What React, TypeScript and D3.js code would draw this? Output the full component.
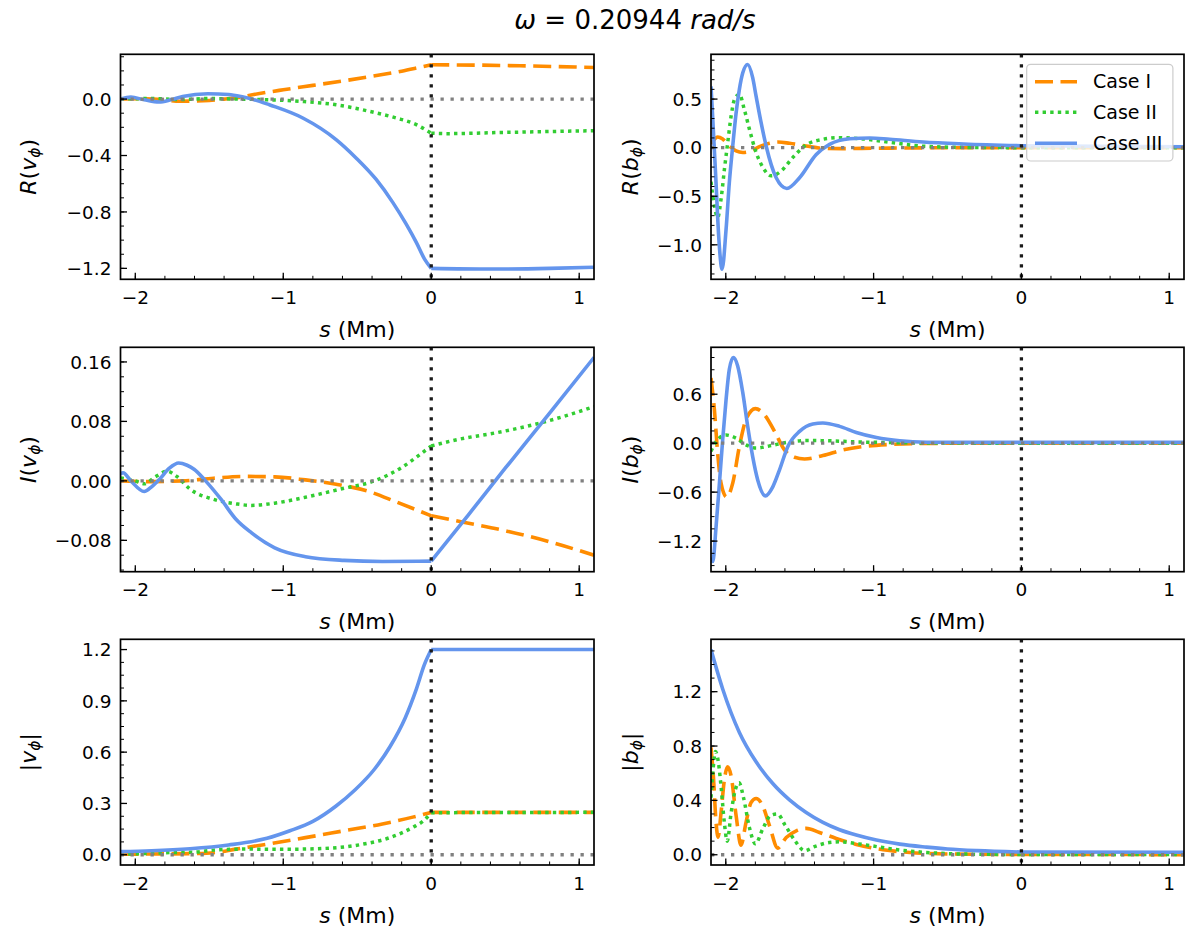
import * as d3 from "d3";

type Pt = [number, number];

// ---- data ----
const sDomain: [number, number] = [-2.1, 1.1];
const sTicks = [-2, -1, 0, 1];
const caseNames = ["Case I", "Case II", "Case III"];

// R(v_phi)
const reV1: Pt[] = [[-2.1, 0.0], [-1.95, 0.002], [-1.8, -0.006], [-1.7, -0.015], [-1.6, -0.014], [-1.5, -0.01], [-1.4, 0.0], [-1.3, 0.012], [-1.2, 0.032], [-1.0, 0.066], [-0.8, 0.097], [-0.6, 0.128], [-0.4, 0.162], [-0.2, 0.198], [-0.1, 0.22], [0, 0.243], [0.3, 0.241], [0.6, 0.236], [1.1, 0.224]];
const reV2: Pt[] = [[-2.1, 0.0], [-1.9, 0.004], [-1.7, -0.003], [-1.5, 0.004], [-1.3, 0.0], [-1.094, -0.005], [-0.868, -0.017], [-0.643, -0.04], [-0.417, -0.087], [-0.237, -0.134], [-0.101, -0.181], [-0.022, -0.228], [0, -0.242], [0.1, -0.245], [0.5, -0.236], [0.8, -0.23], [1.1, -0.224]];
const reV3: Pt[] = [[-2.1, 0.0], [-2.03, 0.014], [-1.94, -0.005], [-1.84, -0.021], [-1.76, -0.005], [-1.68, 0.019], [-1.51, 0.038], [-1.37, 0.033], [-1.27, 0.014], [-1.16, -0.016], [-1.094, -0.04], [-0.868, -0.134], [-0.643, -0.287], [-0.508, -0.417], [-0.372, -0.57], [-0.259, -0.734], [-0.169, -0.887], [-0.101, -1.016], [-0.045, -1.134], [0, -1.2], [0.4, -1.205], [0.8, -1.2], [1.1, -1.192]];

// I(v_phi)
const imV1: Pt[] = [[-2.1, 0.0], [-1.89, -0.001], [-1.68, 0.0], [-1.47, 0.0036], [-1.266, 0.006], [-1.058, 0.0054], [-0.85, 0.0013], [-0.643, -0.0045], [-0.436, -0.0134], [-0.228, -0.029], [0, -0.047], [0.2, -0.055], [0.5, -0.067], [0.8, -0.082], [1.1, -0.1]];
const imV2: Pt[] = [[-2.1, 0.004], [-2.0, 0.0], [-1.94, -0.004], [-1.86, 0.006], [-1.785, 0.013], [-1.72, 0.006], [-1.63, -0.011], [-1.47, -0.025], [-1.318, -0.031], [-1.214, -0.033], [-1.058, -0.03], [-0.85, -0.022], [-0.59, -0.01], [-0.384, 0.0], [-0.2, 0.018], [-0.073, 0.036], [0, 0.047], [0.187, 0.056], [0.446, 0.065], [0.7, 0.076], [0.9, 0.087], [1.1, 0.1]];
const imV3: Pt[] = [[-2.1, 0.009], [-2.083, 0.011], [-2.03, 0.0], [-1.94, -0.0143], [-1.89, -0.008], [-1.837, 0.002], [-1.77, 0.017], [-1.707, 0.024], [-1.65, 0.021], [-1.603, 0.0157], [-1.525, 0.0], [-1.42, -0.025], [-1.318, -0.052], [-1.214, -0.07], [-1.058, -0.09], [-0.85, -0.102], [-0.59, -0.107], [-0.33, -0.1085], [0, -0.108], [0.25, -0.046], [0.5, 0.017], [0.8, 0.091], [1.1, 0.166]];

// |v_phi|
const absV1: Pt[] = [[-2.1, 0.003], [-1.8, 0.005], [-1.6, 0.007], [-1.47, 0.012], [-1.32, 0.033], [-1.11, 0.062], [-0.85, 0.1], [-0.59, 0.14], [-0.33, 0.18], [-0.125, 0.22], [0, 0.248], [1.1, 0.248]];
const absV2: Pt[] = [[-2.1, 0.003], [-1.9, 0.008], [-1.75, 0.013], [-1.6, 0.015], [-1.47, 0.027], [-1.27, 0.033], [-0.98, 0.032], [-0.72, 0.037], [-0.46, 0.062], [-0.28, 0.1], [-0.125, 0.16], [-0.05, 0.2], [0, 0.246], [1.1, 0.248]];
const absV3: Pt[] = [[-2.1, 0.018], [-1.89, 0.023], [-1.63, 0.035], [-1.37, 0.057], [-1.11, 0.096], [-0.955, 0.14], [-0.8, 0.195], [-0.643, 0.285], [-0.514, 0.38], [-0.384, 0.5], [-0.28, 0.63], [-0.176, 0.8], [-0.1, 0.97], [-0.047, 1.11], [0, 1.2], [1.1, 1.2]];

// R(b_phi)
const reB1: Pt[] = [[-2.1, 0.04], [-2.075, 0.09], [-2.055, 0.11], [-2.021, 0.09], [-1.976, 0.017], [-1.93, -0.034], [-1.885, -0.05], [-1.829, -0.034], [-1.772, 0.01], [-1.704, 0.045], [-1.648, 0.058], [-1.569, 0.045], [-1.456, 0.017], [-1.343, -0.007], [-1.207, -0.01], [-1.0, -0.006], [-0.7, -0.002], [-0.3, 0.0], [0, 0.0], [1.1, 0.0]];
const reB2: Pt[] = [[-2.1, -0.35], [-2.077, -0.6], [-2.055, -0.72], [-2.032, -0.53], [-2.009, -0.22], [-1.987, 0.05], [-1.964, 0.325], [-1.94, 0.5], [-1.908, 0.55], [-1.874, 0.39], [-1.84, 0.19], [-1.795, -0.05], [-1.75, -0.2], [-1.693, -0.29], [-1.625, -0.24], [-1.546, -0.1], [-1.467, 0.017], [-1.343, 0.086], [-1.23, 0.103], [-1.072, 0.09], [-0.891, 0.055], [-0.665, 0.015], [-0.4, 0.003], [0, 0.0], [1.1, 0.0]];
const reB3: Pt[] = [[-2.1, 0.63], [-2.089, 0.325], [-2.066, -0.36], [-2.048, -0.91], [-2.025, -1.25], [-1.998, -0.84], [-1.976, -0.36], [-1.953, 0.017], [-1.93, 0.36], [-1.908, 0.6], [-1.885, 0.77], [-1.852, 0.856], [-1.818, 0.72], [-1.795, 0.53], [-1.761, 0.257], [-1.727, 0.017], [-1.659, -0.31], [-1.587, -0.42], [-1.501, -0.31], [-1.388, -0.07], [-1.298, 0.034], [-1.162, 0.092], [-1.026, 0.1], [-0.891, 0.086], [-0.665, 0.058], [-0.39, 0.038], [0, 0.02], [1.1, 0.01]];

// I(b_phi)
const imB1: Pt[] = [[-2.1, 0.8], [-2.077, 0.41], [-2.055, -0.12], [-2.032, -0.49], [-1.994, -0.66], [-1.953, -0.49], [-1.908, -0.04], [-1.863, 0.29], [-1.8, 0.424], [-1.739, 0.35], [-1.67, 0.144], [-1.603, -0.082], [-1.535, -0.173], [-1.467, -0.193], [-1.343, -0.152], [-1.207, -0.082], [-1.072, -0.041], [-0.891, -0.016], [-0.665, -0.004], [-0.3, 0.0], [0, 0.0], [1.1, 0.0]];
const imB2: Pt[] = [[-2.1, -0.1], [-2.066, 0.02], [-1.998, 0.1], [-1.93, 0.06], [-1.863, -0.02], [-1.795, -0.06], [-1.704, -0.033], [-1.591, 0.008], [-1.456, 0.033], [-1.298, 0.029], [-1.117, 0.016], [-0.891, 0.008], [-0.6, 0.002], [0, 0.0], [1.1, 0.0]];
const imB3: Pt[] = [[-2.1, -1.4], [-2.088, -1.45], [-2.066, -1.03], [-2.043, -0.49], [-2.021, 0.04], [-1.998, 0.535], [-1.976, 0.905], [-1.949, 1.05], [-1.92, 0.95], [-1.885, 0.62], [-1.852, 0.21], [-1.818, -0.165], [-1.784, -0.45], [-1.732, -0.646], [-1.682, -0.535], [-1.637, -0.33], [-1.58, -0.04], [-1.501, 0.144], [-1.411, 0.235], [-1.343, 0.247], [-1.23, 0.206], [-1.117, 0.132], [-0.981, 0.07], [-0.823, 0.029], [-0.642, 0.012], [-0.3, 0.01], [0, 0.01], [1.1, 0.01]];

// |b_phi|
const absB1: Pt[] = [[-2.1, 0.79], [-2.084, 0.58], [-2.066, 0.24], [-2.052, 0.13], [-2.032, 0.31], [-2.009, 0.556], [-1.987, 0.647], [-1.964, 0.58], [-1.93, 0.287], [-1.897, 0.071], [-1.863, 0.238], [-1.829, 0.385], [-1.795, 0.414], [-1.75, 0.36], [-1.704, 0.213], [-1.648, 0.049], [-1.591, 0.127], [-1.523, 0.176], [-1.456, 0.194], [-1.366, 0.164], [-1.253, 0.12], [-1.117, 0.076], [-0.936, 0.037], [-0.755, 0.017], [-0.5, 0.006], [0, 0.002], [1.1, 0.001]];
const absB2: Pt[] = [[-2.1, 0.42], [-2.085, 0.64], [-2.07, 0.76], [-2.05, 0.68], [-2.03, 0.48], [-2.01, 0.24], [-1.99, 0.1], [-1.965, 0.3], [-1.935, 0.48], [-1.91, 0.53], [-1.88, 0.42], [-1.84, 0.2], [-1.8, 0.08], [-1.75, 0.19], [-1.695, 0.29], [-1.65, 0.3], [-1.6, 0.22], [-1.53, 0.1], [-1.467, 0.03], [-1.4, 0.06], [-1.3, 0.09], [-1.23, 0.095], [-1.1, 0.08], [-0.95, 0.055], [-0.8, 0.032], [-0.6, 0.014], [-0.4, 0.005], [0, 0.002], [1.1, 0.001]];
const absB3: Pt[] = [[-2.1, 1.51], [-2.021, 1.22], [-1.908, 0.9], [-1.795, 0.684], [-1.682, 0.524], [-1.569, 0.404], [-1.456, 0.311], [-1.343, 0.238], [-1.23, 0.184], [-1.117, 0.145], [-0.981, 0.108], [-0.823, 0.078], [-0.642, 0.056], [-0.5, 0.042], [-0.3, 0.03], [0, 0.02], [1.1, 0.018]];

// ---- layout ----
const W = 1200;
const H = 934;
const FONT = "DejaVu Sans";
const colX: [number, number][] = [[120.5, 594], [711, 1184]];
const rowY: [number, number][] = [[54.3, 279.3], [347.3, 571.7], [639.3, 865]];
const labelX = [35.5, 638];

const styles = [
  { color: "#ff8c00", width: 3.6, dash: "18 7.5" },
  { color: "#32cd32", width: 3.5, dash: "3.4 4.2" },
  { color: "#6495ed", width: 3.6, dash: undefined as string | undefined },
];

interface PanelDef {
  col: number;
  row: number;
  yDomain: [number, number];
  yTicks: number[];
  yMinor: number;
  fmt: string;
  op: string; // "R", "I" or "" for |..|
  sym: string;
  series: Pt[][];
}

const panels: PanelDef[] = [
  { col: 0, row: 0, yDomain: [-1.2775, 0.3175], yTicks: [-1.2, -0.8, -0.4, 0], yMinor: 0.1, fmt: ".1f", op: "R", sym: "v", series: [reV1, reV2, reV3] },
  { col: 1, row: 0, yDomain: [-1.355, 0.961], yTicks: [-1, -0.5, 0, 0.5], yMinor: 0.1, fmt: ".1f", op: "R", sym: "b", series: [reB1, reB2, reB3] },
  { col: 0, row: 1, yDomain: [-0.1222, 0.1797], yTicks: [-0.08, 0, 0.08, 0.16], yMinor: 0.02, fmt: ".2f", op: "I", sym: "v", series: [imV1, imV2, imV3] },
  { col: 1, row: 1, yDomain: [-1.575, 1.175], yTicks: [-1.2, -0.6, 0, 0.6], yMinor: 0.15, fmt: ".1f", op: "I", sym: "b", series: [imB1, imB2, imB3] },
  { col: 0, row: 2, yDomain: [-0.06, 1.26], yTicks: [0, 0.3, 0.6, 0.9, 1.2], yMinor: 0.075, fmt: ".1f", op: "", sym: "v", series: [absV1, absV2, absV3] },
  { col: 1, row: 2, yDomain: [-0.0755, 1.5855], yTicks: [0, 0.4, 0.8, 1.2], yMinor: 0.1, fmt: ".1f", op: "", sym: "b", series: [absB1, absB2, absB3] },
];

function Panel({ p, idx }: { p: PanelDef; idx: number }) {
  const [x0, x1] = colX[p.col];
  const [y0, y1] = rowY[p.row];
  const x = d3.scaleLinear().domain(sDomain).range([x0, x1]);
  const y = d3.scaleLinear().domain(p.yDomain).range([y1, y0]);
  const line = d3
    .line<Pt>()
    .x((d) => x(d[0]))
    .y((d) => y(d[1]))
    .curve(d3.curveMonotoneX);
  const fmt = d3.format(p.fmt);
  const xMinor = d3.range(-10, 6).map((k) => k * 0.2).filter((v) => v >= sDomain[0] && v <= sDomain[1]);
  const yMinor = d3
    .range(Math.ceil(p.yDomain[0] / p.yMinor - 1e-9), Math.floor(p.yDomain[1] / p.yMinor + 1e-9) + 1)
    .map((k) => k * p.yMinor);
  const clipId = `clip-${idx}`;
  const cy = (y0 + y1) / 2;
  const cx = (x0 + x1) / 2;

  return (
    <g>
      <defs>
        <clipPath id={clipId}>
          <rect x={x0} y={y0} width={x1 - x0} height={y1 - y0} />
        </clipPath>
      </defs>
      <g clipPath={`url(#${clipId})`}>
        {p.series.map((pts, i) => {
          const st = styles[i];
          const left = pts.filter((d) => d[0] <= 0);
          const right = pts.filter((d) => d[0] >= 0);
          return [left, right].map((seg, j) => (
            <path
              key={`${i}-${j}`}
              d={line(seg) ?? ""}
              fill="none"
              stroke={st.color}
              strokeWidth={st.width}
              strokeDasharray={st.dash}
            />
          ));
        })}
        <line x1={x0} x2={x1} y1={y(0)} y2={y(0)} stroke="#808080" strokeWidth={3.3} strokeDasharray="3.3 6.7" />
        <line x1={x(0)} x2={x(0)} y1={y0} y2={y1} stroke="#1a1a1a" strokeWidth={3.3} strokeDasharray="3.3 6.7" />
      </g>

      {/* ticks, inward */}
      {xMinor.map((v) => (
        <line key={`xm${v}`} x1={x(v)} x2={x(v)} y1={y1} y2={y1 - 3.5} stroke="#000" strokeWidth={1} />
      ))}
      {sTicks.map((v) => (
        <g key={`xt${v}`}>
          <line x1={x(v)} x2={x(v)} y1={y1} y2={y1 - 6.5} stroke="#000" strokeWidth={1.3} />
          <text x={x(v)} y={y1 + 24.5} textAnchor="middle" fontSize={18.5} fontFamily={FONT}>
            {d3.format("d")(v)}
          </text>
        </g>
      ))}
      {yMinor.map((v) => (
        <line key={`ym${v}`} x1={x0} x2={x0 + 3.5} y1={y(v)} y2={y(v)} stroke="#000" strokeWidth={1} />
      ))}
      {p.yTicks.map((v) => (
        <g key={`yt${v}`}>
          <line x1={x0} x2={x0 + 6.5} y1={y(v)} y2={y(v)} stroke="#000" strokeWidth={1.3} />
          <text x={x0 - 9} y={y(v) + 6.7} textAnchor="end" fontSize={18.5} fontFamily={FONT}>
            {fmt(v)}
          </text>
        </g>
      ))}

      <rect x={x0} y={y0} width={x1 - x0} height={y1 - y0} fill="none" stroke="#000" strokeWidth={1.7} />

      {/* axis labels */}
      <text x={cx} y={y1 + 57.5} textAnchor="middle" fontSize={22} fontFamily={FONT}>
        <tspan fontStyle="italic">s</tspan> (Mm)
      </text>
      <text
        transform={`translate(${labelX[p.col]},${cy}) rotate(-90)`}
        textAnchor="middle"
        fontSize={22}
        fontFamily={FONT}
      >
        {p.op ? <tspan fontStyle="italic">{p.op}</tspan> : null}
        <tspan>{p.op ? "(" : "|"}</tspan>
        <tspan fontStyle="italic">{p.sym}</tspan>
        <tspan fontStyle="italic" fontSize={15.5} dy={4}>ϕ</tspan>
        <tspan dy={-4}>{p.op ? ")" : "|"}</tspan>
      </text>
    </g>
  );
}

function Legend() {
  const rows = [81.7, 112.3, 143.3];
  return (
    <g>
      <rect x={1026.7} y={64.3} width={146.2} height={96.7} rx={4} fill="#fff" fillOpacity={0.8} stroke="#cccccc" strokeWidth={1.2} />
      {caseNames.map((name, i) => (
        <g key={name}>
          <line x1={1035} x2={1077} y1={rows[i]} y2={rows[i]} stroke={styles[i].color} strokeWidth={styles[i].width} strokeDasharray={styles[i].dash} />
          <text x={1093} y={rows[i] + 6.7} fontSize={19} fontFamily={FONT}>
            {name}
          </text>
        </g>
      ))}
    </g>
  );
}

export default function App() {
  return (
    <svg width={W} height={H} style={{ position: "absolute", left: 0, top: 0, background: "#fff" }}>
      <rect width={W} height={H} fill="#fff" />
      <text x={635} y={28.5} textAnchor="middle" fontSize={26} fontFamily={FONT}>
        <tspan fontStyle="italic">ω</tspan>
        <tspan> = 0.20944 </tspan>
        <tspan fontStyle="italic">rad/s</tspan>
      </text>
      {panels.map((p, i) => (
        <Panel key={i} p={p} idx={i} />
      ))}
      <Legend />
    </svg>
  );
}
